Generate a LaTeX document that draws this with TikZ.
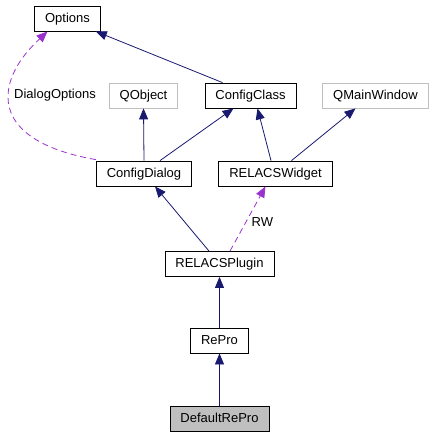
\documentclass[tikz,border=0pt]{standalone}
\usepackage{fontspec}
\setmainfont{Liberation Sans}
\usetikzlibrary{arrows.meta}

\definecolor{navyedge}{HTML}{191970}
\definecolor{orchid}{HTML}{9A32CD}
\definecolor{boxgray}{HTML}{BFBFBF}

\begin{document}
\begin{tikzpicture}[x=1pt, y=-1pt,
    cls/.style={draw, line width=0.8pt, fill=white, inner xsep=10.5pt, minimum height=25pt, text height=9.5pt, text depth=2.5pt, font=\fontsize{13}{15}\selectfont},
    extcls/.style={cls, draw=boxgray, line width=0.8pt},
    focus/.style={cls, fill=boxgray},
    inherit/.style={-{Triangle[length=11pt, width=9pt]}, navyedge, line width=0.8pt},
    usage/.style={-{Triangle[length=11pt, width=9pt]}, orchid, line width=0.8pt, dash pattern=on 6pt off 4pt},
    label/.style={text=black, font=\fontsize{13}{15}\selectfont}
]
\useasboundingbox (0,0) rectangle (434,437);

% Top row
\node[cls] (options) at (67.5,18.5) {Options};

% Second row
\node[extcls] (qobject) at (143.5,95.5) {QObject};
\node[cls] (cfgclass) at (250.5,95.5) {ConfigClass};
\node[extcls] (qmainwin) at (375.5,95.5) {QMainWindow};

% Third row
\node[cls] (cfgdialog) at (144,173.5) {ConfigDialog};
\node[cls] (widget) at (275.5,173.5) {RELACSWidget};

% Plugin chain
\node[cls] (plugin) at (219.5,264) {RELACSPlugin};
\node[cls] (repro) at (219.5,340.5) {RePro};
\node[focus] (defrepro) at (219.5,418.5) {DefaultRePro};

% Inheritance
\draw[inherit] ([xshift=-28pt]cfgclass.north) -- ([xshift=-5pt]options.south east);
\draw[inherit] (cfgdialog.north) -- (qobject.south);
\draw[inherit] ([xshift=16pt]cfgdialog.north) -- ([xshift=-17pt]cfgclass.south);
\draw[inherit] ([xshift=-4.5pt]widget.north) -- ([xshift=7pt]cfgclass.south);
\draw[inherit] ([xshift=16pt]widget.north) -- ([xshift=-20pt]qmainwin.south);
\draw[inherit] ([xshift=-10.5pt]plugin.north) -- ([xshift=11pt]cfgdialog.south);
\draw[inherit] (repro.north) -- (plugin.south);
\draw[inherit] (defrepro.north) -- (repro.south);

% Usage relations
\draw[usage] ([xshift=10.5pt]plugin.north) -- node[label, right, pos=0.45, xshift=2pt] {RW} ([xshift=-10pt]widget.south);
\draw[usage] ([yshift=1pt]cfgdialog.north west) .. controls (40,150) and (8,128) .. (8,97)
    .. controls (8,70) and (30,48) .. ([xshift=-20pt]options.south);
\node[label] (dlgopts) at (55,95.5) {DialogOptions};

\end{tikzpicture}
\end{document}
